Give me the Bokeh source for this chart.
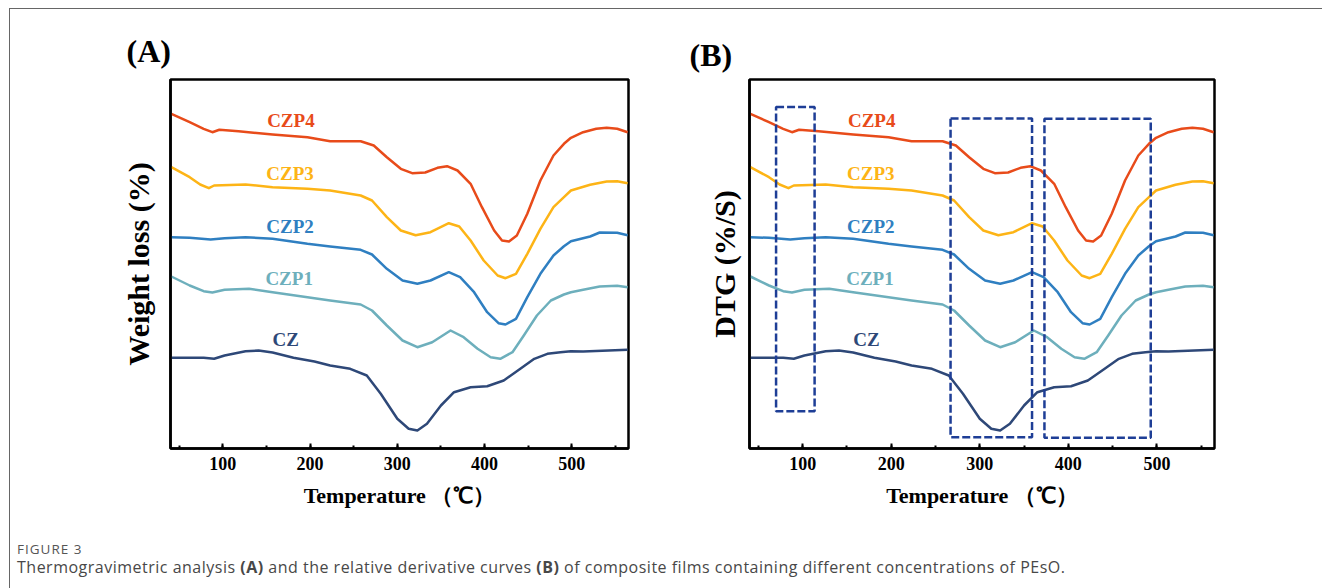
from bokeh.plotting import figure
from bokeh.models import Range1d, SingleIntervalTicker, FixedTicker, Div, ColumnDataSource
from bokeh.layouts import column, row
from bokeh.core.properties import value
from bokeh.embed import file_html
from bokeh.resources import INLINE

# ---------------- data (temperature in degC, curve level in arbitrary units) ----------------
czp4_t = [41, 62, 78, 88, 96, 118, 157, 197, 223, 258, 273, 288, 304, 317, 332, 346, 357, 369,
          384, 397, 411, 420, 428, 437, 449, 464, 479, 491, 499, 513, 528, 540, 552, 564]
czp4_y = [334.7, 326.3, 319.7, 316.3, 318.7, 317.3, 314.0, 311.3, 307.3, 307.3, 303.0, 291.3,
          279.7, 275.3, 276.0, 280.7, 282.3, 278.0, 264.7, 241.3, 218.0, 208.0, 207.0, 213.0,
          234.7, 268.0, 293.0, 304.7, 310.7, 316.3, 319.7, 320.7, 319.7, 316.3]

czp3_t = [41, 62, 74, 84, 90, 126, 157, 197, 223, 258, 271, 288, 304, 321, 338, 359, 371, 384,
          399, 415, 424, 436, 449, 464, 479, 491, 499, 521, 540, 552, 564]
czp3_y = [281.3, 271.3, 264.0, 260.3, 263.0, 264.0, 261.3, 259.7, 258.0, 253.0, 248.0, 231.3,
          218.0, 213.3, 216.3, 225.3, 222.0, 208.0, 188.0, 173.0, 170.3, 174.7, 194.7, 219.7,
          241.3, 251.3, 258.0, 263.7, 267.0, 267.3, 265.3]

czp2_t = [41, 62, 86, 102, 126, 157, 197, 223, 258, 271, 288, 306, 323, 338, 359, 372, 388, 403,
          416, 424, 436, 449, 464, 479, 491, 499, 521, 532, 552, 564]
czp2_y = [211.3, 210.7, 209.0, 210.3, 211.3, 209.7, 204.7, 202.0, 198.7, 194.0, 179.7, 168.0,
          164.7, 168.0, 176.3, 171.3, 156.3, 136.3, 125.3, 124.0, 129.7, 151.3, 174.7, 193.0,
          202.3, 207.3, 212.0, 216.0, 215.7, 213.3]

czp1_t = [41, 62, 78, 88, 102, 130, 157, 197, 223, 258, 271, 288, 306, 323, 340, 361, 376, 392,
          407, 418, 432, 445, 460, 476, 491, 499, 513, 532, 552, 564]
czp1_y = [172.0, 163.0, 157.3, 156.0, 158.7, 159.7, 156.3, 151.3, 148.0, 144.0, 138.0, 123.0,
          108.0, 101.3, 106.3, 118.0, 111.3, 99.7, 91.3, 89.7, 96.3, 113.0, 133.0, 148.0,
          154.0, 156.3, 158.7, 162.0, 162.7, 161.3]

cz_t = [41, 78, 90, 102, 126, 141, 157, 181, 205, 223, 246, 265, 281, 300, 313, 323, 334, 350,
        365, 384, 403, 422, 441, 457, 472, 487, 499, 513, 564]
cz_y = [90.7, 90.7, 89.7, 93.0, 97.3, 98.0, 96.0, 90.7, 87.0, 83.0, 79.7, 73.0, 54.7, 29.7,
        19.7, 18.0, 24.7, 43.0, 56.3, 61.3, 62.3, 68.0, 79.7, 89.7, 94.7, 96.3, 97.3, 97.0, 98.7]

series_names = ["CZP4", "CZP3", "CZP2", "CZP1", "CZ"]
series_colors = ["#E84B1A", "#FDB416", "#2F7FC1", "#6DAFBC", "#2E4878"]
label_t = [178, 177, 177, 176, 172]
label_y = [328, 275, 222, 170, 109]

# dashed highlight boxes of panel B (temperature / level)
box_left = [70, 267, 373]
box_right = [113.5, 359, 493]
box_top = [341.5, 330.0, 329.7]
box_bottom = [37.3, 11.3, 10.8]

x_tick_interval = 100
x_min, x_max = 40, 565
y_min, y_max = 0, 369

curves = [(czp4_t, czp4_y), (czp3_t, czp3_y), (czp2_t, czp2_y), (czp1_t, czp1_y), (cz_t, cz_y)]

SERIF = "Liberation Serif"


def make_panel(width, height, mbl, mbr, mbt, mbb, ylabel, title, title_offset,
               title_standoff, ylabel_standoff):
    p = figure(width=width, height=height, x_range=Range1d(x_min, x_max),
               y_range=Range1d(y_min, y_max), output_backend="svg", toolbar_location=None,
               min_border_left=mbl, min_border_right=mbr, min_border_top=mbt,
               min_border_bottom=mbb)
    p.grid.visible = False
    p.outline_line_color = "black"
    p.outline_line_width = 2.5
    p.outline_line_alpha = 1.0
    p.background_fill_color = "white"
    p.border_fill_color = "white"

    xa = p.xaxis[0]
    xa.ticker = SingleIntervalTicker(interval=x_tick_interval, num_minor_ticks=2)
    xa.axis_line_color = "black"
    xa.axis_line_width = 2.5
    xa.major_tick_in = 5
    xa.major_tick_out = 0
    xa.minor_tick_in = 3
    xa.minor_tick_out = 0
    xa.major_tick_line_width = 2
    xa.minor_tick_line_width = 2
    xa.major_tick_line_color = "black"
    xa.minor_tick_line_color = "black"
    xa.major_label_text_font = SERIF
    xa.major_label_text_font_style = "bold"
    xa.major_label_text_font_size = "18px"
    xa.major_label_text_color = "black"
    xa.major_label_standoff = 8
    xa.axis_label = "Temperature （℃）"
    xa.axis_label_text_font = SERIF
    xa.axis_label_text_font_style = "bold"
    xa.axis_label_text_font_size = "22px"
    xa.axis_label_text_color = "black"
    xa.axis_label_standoff = 10

    ya = p.yaxis[0]
    ya.ticker = FixedTicker(ticks=[])
    ya.axis_line_color = "black"
    ya.axis_line_width = 2.5
    ya.major_tick_line_color = None
    ya.minor_tick_line_color = None
    ya.major_label_text_font_size = "0px"
    ya.axis_label = ylabel
    ya.axis_label_text_font = SERIF
    ya.axis_label_text_font_style = "bold"
    ya.axis_label_text_font_size = "30px"
    ya.axis_label_text_color = "black"
    ya.axis_label_standoff = ylabel_standoff

    p.title.text = title
    p.title.text_font = SERIF
    p.title.text_font_style = "bold"
    p.title.text_font_size = "32px"
    p.title.text_color = "black"
    p.title.align = "left"
    p.title.offset = title_offset
    p.title.standoff = title_standoff

    for (t, y), c in zip(curves, series_colors):
        p.line(t, y, line_color=c, line_width=2.5, line_join="round")

    src = ColumnDataSource(dict(x=label_t, y=label_y, text=series_names, color=series_colors))
    p.text(x="x", y="y", text="text", text_color="color", source=src,
           text_font=value(SERIF), text_font_style="bold", text_font_size="19px",
           text_align="center", text_baseline="middle")
    return p


pA = make_panel(651, 520, 160, 33, 70, 81, "Weight loss (%)", "(A)", -44, 22, 16)
pB = make_panel(650, 520, 88, 97, 64, 80, "DTG (%/S)", "(B)", -60, 13, 9)
pB.quad(left=box_left, right=box_right, top=box_top, bottom=box_bottom,
        fill_color=None, line_color="#1E3E96", line_width=2.5, line_dash="8 3")

caption_html = (
    "<div style=\"font-family:'Open Sans',sans-serif; padding-left:2px;\">"
    "<div style='font-size:13.5px; line-height:18px; margin-top:6px; color:#555; "
    "letter-spacing:1px;'>FIGURE 3</div>"
    "<div style='font-size:16px; line-height:18px; color:#484848; letter-spacing:0.5px;'>"
    "Thermogravimetric analysis <b>(A)</b> and the relative derivative curves <b>(B)</b> "
    "of composite films containing different concentrations of PEsO.</div></div>"
)
cap = Div(text=caption_html, width=1312, height=58)

layout = column(row(pA, pB), cap, margin=(8, 0, 0, 9),
                styles={"border-top": "1px solid #666", "border-left": "1px solid #666"})

open("out.html", "w").write(file_html(layout, INLINE))
